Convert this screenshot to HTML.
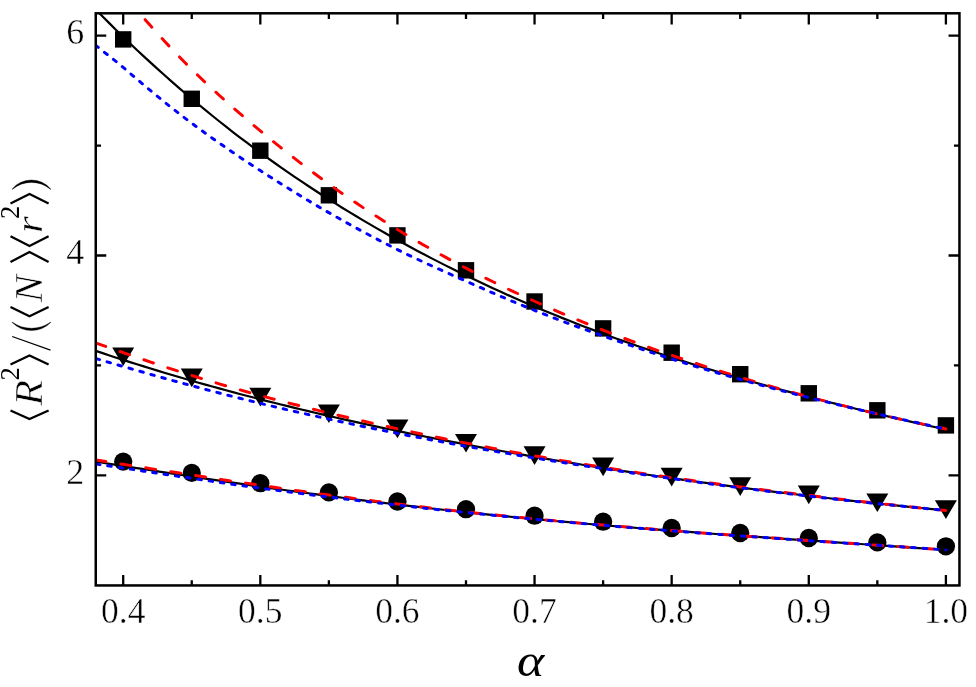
<!DOCTYPE html>
<html><head><meta charset="utf-8"><title>chart</title>
<style>html,body{margin:0;padding:0;background:#fff}svg{display:block}text{font-family:"Liberation Serif",serif}</style>
</head><body>
<svg width="976" height="687" viewBox="0 0 976 687">
<rect width="976" height="687" fill="#fff"/>
<defs><clipPath id="c"><rect x="95.75" y="13.3" width="863.7" height="572.1500000000001"/></clipPath></defs>
<g clip-path="url(#c)">
<g fill="#000"><rect x="115.00" y="31.20" width="16.4" height="16.4"/><rect x="183.56" y="90.60" width="16.4" height="16.4"/><rect x="252.12" y="142.50" width="16.4" height="16.4"/><rect x="320.68" y="187.10" width="16.4" height="16.4"/><rect x="389.23" y="227.20" width="16.4" height="16.4"/><rect x="457.79" y="262.10" width="16.4" height="16.4"/><rect x="526.35" y="293.30" width="16.4" height="16.4"/><rect x="594.91" y="320.20" width="16.4" height="16.4"/><rect x="663.47" y="344.50" width="16.4" height="16.4"/><rect x="732.02" y="366.00" width="16.4" height="16.4"/><rect x="800.58" y="385.10" width="16.4" height="16.4"/><rect x="869.14" y="402.10" width="16.4" height="16.4"/><rect x="937.70" y="417.20" width="16.4" height="16.4"/><path d="M112.20,347.40H134.20L123.20,366.10Z"/><path d="M180.76,368.50H202.76L191.76,387.20Z"/><path d="M249.32,387.80H271.32L260.32,406.50Z"/><path d="M317.88,404.40H339.88L328.88,423.10Z"/><path d="M386.43,419.60H408.43L397.43,438.30Z"/><path d="M454.99,433.90H476.99L465.99,452.60Z"/><path d="M523.55,446.20H545.55L534.55,464.90Z"/><path d="M592.11,457.50H614.11L603.11,476.20Z"/><path d="M660.67,467.70H682.67L671.67,486.40Z"/><path d="M729.22,477.30H751.22L740.22,496.00Z"/><path d="M797.78,485.50H819.78L808.78,504.20Z"/><path d="M866.34,493.40H888.34L877.34,512.10Z"/><path d="M934.90,500.20H956.90L945.90,518.90Z"/><circle cx="123.20" cy="461.60" r="9.15"/><circle cx="191.76" cy="472.90" r="9.15"/><circle cx="260.32" cy="483.20" r="9.15"/><circle cx="328.88" cy="492.40" r="9.15"/><circle cx="397.43" cy="501.50" r="9.15"/><circle cx="465.99" cy="509.20" r="9.15"/><circle cx="534.55" cy="515.70" r="9.15"/><circle cx="603.11" cy="521.70" r="9.15"/><circle cx="671.67" cy="528.00" r="9.15"/><circle cx="740.22" cy="533.00" r="9.15"/><circle cx="808.78" cy="538.00" r="9.15"/><circle cx="877.34" cy="542.40" r="9.15"/><circle cx="945.90" cy="546.30" r="9.15"/></g>
<path d="M95.78,9.57 L102.63,16.53 L109.49,23.39 L116.34,30.17 L123.20,36.85 L130.06,43.44 L136.91,49.94 L143.77,56.34 L150.62,62.67 L157.48,68.90 L164.33,75.05 L171.19,81.11 L178.05,87.09 L184.90,92.98 L191.76,98.80 L198.61,104.53 L205.47,110.18 L212.33,115.75 L219.18,121.25 L226.04,126.67 L232.89,132.01 L239.75,137.27 L246.60,142.46 L253.46,147.58 L260.32,152.63 L267.17,157.61 L274.03,162.51 L280.88,167.35 L287.74,172.12 L294.60,176.82 L301.45,181.46 L308.31,186.03 L315.16,190.54 L322.02,194.98 L328.88,199.36 L335.73,203.68 L342.59,207.95 L349.44,212.15 L356.30,216.29 L363.15,220.38 L370.01,224.42 L376.87,228.39 L383.72,232.32 L390.58,236.19 L397.43,240.01 L404.29,243.78 L411.14,247.50 L418.00,251.17 L424.86,254.79 L431.71,258.36 L438.57,261.89 L445.42,265.37 L452.28,268.80 L459.14,272.19 L465.99,275.53 L472.85,278.82 L479.70,282.08 L486.56,285.29 L493.41,288.45 L500.27,291.58 L507.13,294.66 L513.98,297.70 L520.84,300.70 L527.69,303.66 L534.55,306.58 L541.41,309.46 L548.26,312.30 L555.12,315.10 L561.97,317.87 L568.83,320.59 L575.68,323.29 L582.54,325.94 L589.40,328.56 L596.25,331.15 L603.11,333.70 L609.96,336.22 L616.82,338.70 L623.68,341.15 L630.53,343.57 L637.39,345.96 L644.24,348.32 L651.10,350.64 L657.96,352.94 L664.81,355.21 L671.67,357.45 L678.52,359.65 L685.38,361.84 L692.23,363.99 L699.09,366.12 L705.95,368.22 L712.80,370.30 L719.66,372.35 L726.51,374.37 L733.37,376.38 L740.23,378.36 L747.08,380.31 L753.94,382.25 L760.79,384.16 L767.65,386.05 L774.50,387.92 L781.36,389.77 L788.22,391.60 L795.07,393.41 L801.93,395.21 L808.78,396.98 L815.64,398.74 L822.50,400.48 L829.35,402.20 L836.21,403.91 L843.06,405.61 L849.92,407.28 L856.77,408.95 L863.63,410.60 L870.49,412.24 L877.34,413.86 L884.20,415.48 L891.05,417.08 L897.91,418.67 L904.76,420.25 L911.62,421.82 L918.48,423.38 L925.33,424.94 L932.19,426.48 L939.04,428.02 L945.90,429.55" fill="none" stroke="#000" stroke-width="2.2"/>
<path d="M95.78,350.85 L102.63,353.16 L109.49,355.44 L116.34,357.68 L123.20,359.91 L130.06,362.10 L136.91,364.27 L143.77,366.42 L150.62,368.53 L157.48,370.63 L164.33,372.70 L171.19,374.74 L178.05,376.77 L184.90,378.76 L191.76,380.74 L198.61,382.69 L205.47,384.62 L212.33,386.53 L219.18,388.42 L226.04,390.29 L232.89,392.13 L239.75,393.96 L246.60,395.76 L253.46,397.55 L260.32,399.31 L267.17,401.06 L274.03,402.79 L280.88,404.49 L287.74,406.18 L294.60,407.86 L301.45,409.51 L308.31,411.15 L315.16,412.77 L322.02,414.37 L328.88,415.95 L335.73,417.52 L342.59,419.08 L349.44,420.61 L356.30,422.13 L363.15,423.64 L370.01,425.13 L376.87,426.60 L383.72,428.06 L390.58,429.51 L397.43,430.94 L404.29,432.36 L411.14,433.76 L418.00,435.15 L424.86,436.52 L431.71,437.88 L438.57,439.23 L445.42,440.57 L452.28,441.89 L459.14,443.20 L465.99,444.49 L472.85,445.78 L479.70,447.05 L486.56,448.31 L493.41,449.56 L500.27,450.79 L507.13,452.02 L513.98,453.23 L520.84,454.43 L527.69,455.62 L534.55,456.80 L541.41,457.96 L548.26,459.12 L555.12,460.27 L561.97,461.40 L568.83,462.53 L575.68,463.64 L582.54,464.74 L589.40,465.84 L596.25,466.92 L603.11,467.99 L609.96,469.06 L616.82,470.11 L623.68,471.15 L630.53,472.19 L637.39,473.21 L644.24,474.22 L651.10,475.23 L657.96,476.23 L664.81,477.21 L671.67,478.19 L678.52,479.16 L685.38,480.12 L692.23,481.07 L699.09,482.01 L705.95,482.94 L712.80,483.87 L719.66,484.78 L726.51,485.69 L733.37,486.58 L740.23,487.47 L747.08,488.35 L753.94,489.23 L760.79,490.09 L767.65,490.95 L774.50,491.79 L781.36,492.63 L788.22,493.46 L795.07,494.28 L801.93,495.10 L808.78,495.91 L815.64,496.70 L822.50,497.49 L829.35,498.28 L836.21,499.05 L843.06,499.82 L849.92,500.58 L856.77,501.33 L863.63,502.07 L870.49,502.81 L877.34,503.54 L884.20,504.26 L891.05,504.97 L897.91,505.67 L904.76,506.37 L911.62,507.06 L918.48,507.75 L925.33,508.42 L932.19,509.09 L939.04,509.75 L945.90,510.40" fill="none" stroke="#000" stroke-width="2.2"/>
<path d="M95.78,461.70 L102.63,462.78 L109.49,463.85 L116.34,464.93 L123.20,466.00 L130.06,467.07 L136.91,468.14 L143.77,469.21 L150.62,470.27 L157.48,471.33 L164.33,472.39 L171.19,473.44 L178.05,474.49 L184.90,475.53 L191.76,476.57 L198.61,477.60 L205.47,478.63 L212.33,479.65 L219.18,480.67 L226.04,481.68 L232.89,482.69 L239.75,483.68 L246.60,484.68 L253.46,485.66 L260.32,486.64 L267.17,487.61 L274.03,488.57 L280.88,489.53 L287.74,490.48 L294.60,491.42 L301.45,492.35 L308.31,493.28 L315.16,494.20 L322.02,495.10 L328.88,496.01 L335.73,496.90 L342.59,497.78 L349.44,498.66 L356.30,499.52 L363.15,500.38 L370.01,501.23 L376.87,502.07 L383.72,502.91 L390.58,503.73 L397.43,504.55 L404.29,505.35 L411.14,506.15 L418.00,506.94 L424.86,507.72 L431.71,508.49 L438.57,509.26 L445.42,510.01 L452.28,510.76 L459.14,511.50 L465.99,512.22 L472.85,512.95 L479.70,513.66 L486.56,514.36 L493.41,515.06 L500.27,515.75 L507.13,516.43 L513.98,517.10 L520.84,517.77 L527.69,518.42 L534.55,519.07 L541.41,519.72 L548.26,520.35 L555.12,520.98 L561.97,521.60 L568.83,522.21 L575.68,522.82 L582.54,523.42 L589.40,524.01 L596.25,524.60 L603.11,525.18 L609.96,525.75 L616.82,526.32 L623.68,526.88 L630.53,527.44 L637.39,527.99 L644.24,528.54 L651.10,529.08 L657.96,529.62 L664.81,530.15 L671.67,530.67 L678.52,531.19 L685.38,531.71 L692.23,532.22 L699.09,532.73 L705.95,533.24 L712.80,533.74 L719.66,534.24 L726.51,534.73 L733.37,535.23 L740.23,535.72 L747.08,536.20 L753.94,536.69 L760.79,537.17 L767.65,537.65 L774.50,538.12 L781.36,538.60 L788.22,539.07 L795.07,539.55 L801.93,540.02 L808.78,540.49 L815.64,540.96 L822.50,541.43 L829.35,541.90 L836.21,542.37 L843.06,542.83 L849.92,543.30 L856.77,543.77 L863.63,544.24 L870.49,544.71 L877.34,545.18 L884.20,545.65 L891.05,546.12 L897.91,546.60 L904.76,547.07 L911.62,547.55 L918.48,548.03 L925.33,548.51 L932.19,548.99 L939.04,549.48 L945.90,549.96" fill="none" stroke="#000" stroke-width="2.2"/>
<g transform="scale(1,1.01)" fill="none" stroke-linecap="round" stroke-width="2.95">
<path d="M95.78,-37.23 L102.63,-29.10 L109.49,-21.16 L116.34,-13.31 L123.20,-5.45 L130.06,2.42 L136.91,10.22 L143.77,17.94 L150.62,25.57 L157.48,33.10 L164.33,40.51 L171.19,47.78 L178.05,54.91 L184.90,61.88 L191.76,68.66 L198.61,75.27 L205.47,81.75 L212.33,88.08 L219.18,94.30 L226.04,100.41 L232.89,106.41 L239.75,112.32 L246.60,118.15 L253.46,123.90 L260.32,129.59 L267.17,135.21 L274.03,140.74 L280.88,146.20 L287.74,151.57 L294.60,156.87 L301.45,162.09 L308.31,167.23 L315.16,172.29 L322.02,177.28 L328.88,182.19 L335.73,187.03 L342.59,191.78 L349.44,196.47 L356.30,201.08 L363.15,205.61 L370.01,210.08 L376.87,214.47 L383.72,218.79 L390.58,223.04 L397.43,227.23 L404.29,231.35 L411.14,235.39 L418.00,239.36 L424.86,243.27 L431.71,247.12 L438.57,250.91 L445.42,254.63 L452.28,258.31 L459.14,261.93 L465.99,265.50 L472.85,269.01 L479.70,272.46 L486.56,275.86 L493.41,279.20 L500.27,282.49 L507.13,285.74 L513.98,288.93 L520.84,292.09 L527.69,295.20 L534.55,298.28 L541.41,301.33 L548.26,304.32 L555.12,307.28 L561.97,310.20 L568.83,313.08 L575.68,315.91 L582.54,318.71 L589.40,321.47 L596.25,324.19 L603.11,326.88 L609.96,329.53 L616.82,332.14 L623.68,334.72 L630.53,337.26 L637.39,339.76 L644.24,342.23 L651.10,344.67 L657.96,347.08 L664.81,349.45 L671.67,351.79 L678.52,354.09 L685.38,356.37 L692.23,358.62 L699.09,360.83 L705.95,363.02 L712.80,365.18 L719.66,367.32 L726.51,369.43 L733.37,371.52 L740.23,373.58 L747.08,375.62 L753.94,377.64 L760.79,379.63 L767.65,381.60 L774.50,383.54 L781.36,385.46 L788.22,387.35 L795.07,389.22 L801.93,391.07 L808.78,392.89 L815.64,394.68 L822.50,396.46 L829.35,398.21 L836.21,399.94 L843.06,401.64 L849.92,403.33 L856.77,404.99 L863.63,406.62 L870.49,408.24 L877.34,409.83 L884.20,411.40 L891.05,412.95 L897.91,414.47 L904.76,415.98 L911.62,417.47 L918.48,418.94 L925.33,420.40 L932.19,421.84 L939.04,423.27 L945.90,424.70" stroke="#f00" stroke-dasharray="10.0 15.22" stroke-dashoffset="0.5"/>
<path d="M95.78,339.47 L102.63,341.91 L109.49,344.32 L116.34,346.70 L123.20,349.09 L130.06,351.47 L136.91,353.83 L143.77,356.16 L150.62,358.48 L157.48,360.77 L164.33,363.03 L171.19,365.26 L178.05,367.47 L184.90,369.64 L191.76,371.77 L198.61,373.88 L205.47,375.95 L212.33,378.00 L219.18,380.02 L226.04,382.02 L232.89,383.98 L239.75,385.92 L246.60,387.84 L253.46,389.73 L260.32,391.59 L267.17,393.43 L274.03,395.24 L280.88,397.02 L287.74,398.78 L294.60,400.52 L301.45,402.24 L308.31,403.93 L315.16,405.61 L322.02,407.27 L328.88,408.92 L335.73,410.55 L342.59,412.16 L349.44,413.75 L356.30,415.33 L363.15,416.89 L370.01,418.43 L376.87,419.96 L383.72,421.47 L390.58,422.98 L397.43,424.47 L404.29,425.95 L411.14,427.42 L418.00,428.88 L424.86,430.33 L431.71,431.77 L438.57,433.19 L445.42,434.59 L452.28,435.98 L459.14,437.35 L465.99,438.70 L472.85,440.04 L479.70,441.35 L486.56,442.65 L493.41,443.94 L500.27,445.21 L507.13,446.46 L513.98,447.71 L520.84,448.94 L527.69,450.15 L534.55,451.35 L541.41,452.55 L548.26,453.72 L555.12,454.89 L561.97,456.04 L568.83,457.18 L575.68,458.31 L582.54,459.43 L589.40,460.53 L596.25,461.63 L603.11,462.71 L609.96,463.78 L616.82,464.84 L623.68,465.89 L630.53,466.92 L637.39,467.95 L644.24,468.96 L651.10,469.97 L657.96,470.96 L664.81,471.95 L671.67,472.92 L678.52,473.88 L685.38,474.83 L692.23,475.78 L699.09,476.71 L705.95,477.63 L712.80,478.54 L719.66,479.45 L726.51,480.35 L733.37,481.23 L740.23,482.12 L747.08,482.99 L753.94,483.85 L760.79,484.71 L767.65,485.56 L774.50,486.40 L781.36,487.23 L788.22,488.06 L795.07,488.88 L801.93,489.69 L808.78,490.50 L815.64,491.31 L822.50,492.10 L829.35,492.90 L836.21,493.68 L843.06,494.46 L849.92,495.24 L856.77,496.00 L863.63,496.77 L870.49,497.52 L877.34,498.28 L884.20,499.02 L891.05,499.76 L897.91,500.50 L904.76,501.23 L911.62,501.96 L918.48,502.68 L925.33,503.40 L932.19,504.11 L939.04,504.82 L945.90,505.52" stroke="#f00" stroke-dasharray="10.0 15.22" stroke-dashoffset="-0.52"/>
<path d="M95.78,455.38 L102.63,456.47 L109.49,457.56 L116.34,458.64 L123.20,459.72 L130.06,460.78 L136.91,461.85 L143.77,462.90 L150.62,463.96 L157.48,465.01 L164.33,466.06 L171.19,467.11 L178.05,468.15 L184.90,469.20 L191.76,470.24 L198.61,471.28 L205.47,472.33 L212.33,473.36 L219.18,474.40 L226.04,475.43 L232.89,476.45 L239.75,477.47 L246.60,478.49 L253.46,479.50 L260.32,480.50 L267.17,481.50 L274.03,482.49 L280.88,483.48 L287.74,484.46 L294.60,485.44 L301.45,486.41 L308.31,487.37 L315.16,488.32 L322.02,489.26 L328.88,490.19 L335.73,491.11 L342.59,492.02 L349.44,492.92 L356.30,493.81 L363.15,494.69 L370.01,495.56 L376.87,496.43 L383.72,497.28 L390.58,498.13 L397.43,498.97 L404.29,499.80 L411.14,500.63 L418.00,501.45 L424.86,502.26 L431.71,503.07 L438.57,503.86 L445.42,504.64 L452.28,505.41 L459.14,506.17 L465.99,506.91 L472.85,507.65 L479.70,508.36 L486.56,509.07 L493.41,509.76 L500.27,510.45 L507.13,511.12 L513.98,511.79 L520.84,512.45 L527.69,513.10 L534.55,513.75 L541.41,514.39 L548.26,515.02 L555.12,515.65 L561.97,516.27 L568.83,516.88 L575.68,517.49 L582.54,518.09 L589.40,518.68 L596.25,519.27 L603.11,519.85 L609.96,520.42 L616.82,520.99 L623.68,521.55 L630.53,522.11 L637.39,522.66 L644.24,523.20 L651.10,523.75 L657.96,524.28 L664.81,524.81 L671.67,525.34 L678.52,525.86 L685.38,526.38 L692.23,526.89 L699.09,527.40 L705.95,527.90 L712.80,528.40 L719.66,528.90 L726.51,529.40 L733.37,529.89 L740.23,530.38 L747.08,530.86 L753.94,531.35 L760.79,531.83 L767.65,532.31 L774.50,532.78 L781.36,533.26 L788.22,533.73 L795.07,534.20 L801.93,534.67 L808.78,535.14 L815.64,535.61 L822.50,536.07 L829.35,536.54 L836.21,537.00 L843.06,537.47 L849.92,537.94 L856.77,538.40 L863.63,538.87 L870.49,539.33 L877.34,539.80 L884.20,540.27 L891.05,540.74 L897.91,541.20 L904.76,541.68 L911.62,542.15 L918.48,542.62 L925.33,543.10 L932.19,543.57 L939.04,544.05 L945.90,544.53" stroke="#f00" stroke-dasharray="10.0 15.22" stroke-dashoffset="-0.16"/>
<path d="M95.78,44.88 L102.63,50.44 L109.49,55.75 L116.34,61.08 L123.20,66.71 L130.06,72.55 L136.91,78.35 L143.77,84.09 L150.62,89.78 L157.48,95.38 L164.33,100.91 L171.19,106.35 L178.05,111.69 L184.90,116.92 L191.76,122.03 L198.61,127.04 L205.47,131.97 L212.33,136.81 L219.18,141.59 L226.04,146.29 L232.89,150.93 L239.75,155.50 L246.60,160.02 L253.46,164.49 L260.32,168.90 L267.17,173.27 L274.03,177.61 L280.88,181.90 L287.74,186.15 L294.60,190.35 L301.45,194.50 L308.31,198.60 L315.16,202.64 L322.02,206.63 L328.88,210.55 L335.73,214.42 L342.59,218.25 L349.44,222.04 L356.30,225.78 L363.15,229.47 L370.01,233.11 L376.87,236.70 L383.72,240.23 L390.58,243.71 L397.43,247.12 L404.29,250.47 L411.14,253.74 L418.00,256.95 L424.86,260.11 L431.71,263.23 L438.57,266.30 L445.42,269.35 L452.28,272.37 L459.14,275.38 L465.99,278.39 L472.85,281.39 L479.70,284.38 L486.56,287.35 L493.41,290.30 L500.27,293.22 L507.13,296.11 L513.98,298.97 L520.84,301.79 L527.69,304.57 L534.55,307.30 L541.41,309.99 L548.26,312.64 L555.12,315.25 L561.97,317.82 L568.83,320.36 L575.68,322.86 L582.54,325.34 L589.40,327.79 L596.25,330.22 L603.11,332.63 L609.96,335.01 L616.82,337.38 L623.68,339.72 L630.53,342.04 L637.39,344.34 L644.24,346.60 L651.10,348.85 L657.96,351.06 L664.81,353.25 L671.67,355.40 L678.52,357.53 L685.38,359.64 L692.23,361.73 L699.09,363.79 L705.95,365.83 L712.80,367.84 L719.66,369.84 L726.51,371.80 L733.37,373.75 L740.23,375.67 L747.08,377.56 L753.94,379.44 L760.79,381.29 L767.65,383.13 L774.50,384.94 L781.36,386.73 L788.22,388.50 L795.07,390.25 L801.93,391.98 L808.78,393.68 L815.64,395.37 L822.50,397.03 L829.35,398.68 L836.21,400.31 L843.06,401.93 L849.92,403.53 L856.77,405.11 L863.63,406.69 L870.49,408.25 L877.34,409.79 L884.20,411.33 L891.05,412.85 L897.91,414.37 L904.76,415.88 L911.62,417.38 L918.48,418.88 L925.33,420.38 L932.19,421.87 L939.04,423.37 L945.90,424.86" stroke="#00f" stroke-dasharray="3.6 7.787" stroke-dashoffset="0.34"/>
<path d="M95.78,355.05 L102.63,357.02 L109.49,358.95 L116.34,360.87 L123.20,362.84 L130.06,364.82 L136.91,366.79 L143.77,368.74 L150.62,370.68 L157.48,372.59 L164.33,374.49 L171.19,376.37 L178.05,378.24 L184.90,380.09 L191.76,381.91 L198.61,383.73 L205.47,385.53 L212.33,387.31 L219.18,389.09 L226.04,390.84 L232.89,392.58 L239.75,394.30 L246.60,396.00 L253.46,397.68 L260.32,399.34 L267.17,400.98 L274.03,402.60 L280.88,404.20 L287.74,405.78 L294.60,407.35 L301.45,408.90 L308.31,410.43 L315.16,411.95 L322.02,413.46 L328.88,414.95 L335.73,416.42 L342.59,417.89 L349.44,419.34 L356.30,420.78 L363.15,422.20 L370.01,423.61 L376.87,425.01 L383.72,426.39 L390.58,427.75 L397.43,429.10 L404.29,430.43 L411.14,431.75 L418.00,433.06 L424.86,434.35 L431.71,435.62 L438.57,436.89 L445.42,438.14 L452.28,439.38 L459.14,440.61 L465.99,441.83 L472.85,443.03 L479.70,444.23 L486.56,445.41 L493.41,446.59 L500.27,447.75 L507.13,448.90 L513.98,450.04 L520.84,451.17 L527.69,452.29 L534.55,453.40 L541.41,454.50 L548.26,455.59 L555.12,456.66 L561.97,457.73 L568.83,458.79 L575.68,459.84 L582.54,460.88 L589.40,461.91 L596.25,462.94 L603.11,463.96 L609.96,464.98 L616.82,465.99 L623.68,466.99 L630.53,467.99 L637.39,468.98 L644.24,469.96 L651.10,470.93 L657.96,471.90 L664.81,472.86 L671.67,473.81 L678.52,474.76 L685.38,475.70 L692.23,476.63 L699.09,477.56 L705.95,478.48 L712.80,479.39 L719.66,480.29 L726.51,481.18 L733.37,482.07 L740.23,482.94 L747.08,483.81 L753.94,484.66 L760.79,485.51 L767.65,486.35 L774.50,487.18 L781.36,488.00 L788.22,488.81 L795.07,489.62 L801.93,490.42 L808.78,491.20 L815.64,491.99 L822.50,492.76 L829.35,493.52 L836.21,494.28 L843.06,495.03 L849.92,495.77 L856.77,496.50 L863.63,497.23 L870.49,497.94 L877.34,498.65 L884.20,499.35 L891.05,500.05 L897.91,500.73 L904.76,501.41 L911.62,502.08 L918.48,502.74 L925.33,503.40 L932.19,504.05 L939.04,504.69 L945.90,505.32" stroke="#00f" stroke-dasharray="3.6 7.787" stroke-dashoffset="-0.3"/>
<path d="M95.78,459.40 L102.63,460.40 L109.49,461.40 L116.34,462.40 L123.20,463.41 L130.06,464.44 L136.91,465.46 L143.77,466.49 L150.62,467.51 L157.48,468.54 L164.33,469.56 L171.19,470.58 L178.05,471.59 L184.90,472.60 L191.76,473.60 L198.61,474.60 L205.47,475.60 L212.33,476.60 L219.18,477.58 L226.04,478.57 L232.89,479.54 L239.75,480.51 L246.60,481.47 L253.46,482.41 L260.32,483.35 L267.17,484.27 L274.03,485.18 L280.88,486.08 L287.74,486.97 L294.60,487.85 L301.45,488.72 L308.31,489.58 L315.16,490.43 L322.02,491.28 L328.88,492.12 L335.73,492.96 L342.59,493.78 L349.44,494.60 L356.30,495.41 L363.15,496.21 L370.01,497.00 L376.87,497.79 L383.72,498.57 L390.58,499.34 L397.43,500.11 L404.29,500.87 L411.14,501.63 L418.00,502.38 L424.86,503.13 L431.71,503.86 L438.57,504.60 L445.42,505.32 L452.28,506.04 L459.14,506.75 L465.99,507.45 L472.85,508.14 L479.70,508.83 L486.56,509.50 L493.41,510.18 L500.27,510.84 L507.13,511.50 L513.98,512.15 L520.84,512.79 L527.69,513.43 L534.55,514.07 L541.41,514.70 L548.26,515.33 L555.12,515.95 L561.97,516.57 L568.83,517.18 L575.68,517.79 L582.54,518.39 L589.40,518.98 L596.25,519.57 L603.11,520.15 L609.96,520.72 L616.82,521.29 L623.68,521.84 L630.53,522.40 L637.39,522.95 L644.24,523.49 L651.10,524.03 L657.96,524.56 L664.81,525.09 L671.67,525.61 L678.52,526.12 L685.38,526.64 L692.23,527.15 L699.09,527.65 L705.95,528.15 L712.80,528.65 L719.66,529.14 L726.51,529.63 L733.37,530.11 L740.23,530.60 L747.08,531.08 L753.94,531.55 L760.79,532.03 L767.65,532.50 L774.50,532.97 L781.36,533.43 L788.22,533.90 L795.07,534.36 L801.93,534.82 L808.78,535.28 L815.64,535.74 L822.50,536.20 L829.35,536.66 L836.21,537.12 L843.06,537.57 L849.92,538.03 L856.77,538.48 L863.63,538.94 L870.49,539.39 L877.34,539.85 L884.20,540.30 L891.05,540.76 L897.91,541.22 L904.76,541.68 L911.62,542.14 L918.48,542.60 L925.33,543.06 L932.19,543.52 L939.04,543.99 L945.90,544.45" stroke="#00f" stroke-dasharray="3.6 7.787" stroke-dashoffset="-0.66"/>
</g>
</g>
<g stroke="#000" stroke-width="2.3" fill="none"><path d="M123.20,585.45v-10.5M123.20,13.3v11.3"/><path d="M191.76,585.45v-5.3M191.76,13.3v5.6"/><path d="M260.32,585.45v-10.5M260.32,13.3v11.3"/><path d="M328.88,585.45v-5.3M328.88,13.3v5.6"/><path d="M397.43,585.45v-10.5M397.43,13.3v11.3"/><path d="M465.99,585.45v-5.3M465.99,13.3v5.6"/><path d="M534.55,585.45v-10.5M534.55,13.3v11.3"/><path d="M603.11,585.45v-5.3M603.11,13.3v5.6"/><path d="M671.67,585.45v-10.5M671.67,13.3v11.3"/><path d="M740.23,585.45v-5.3M740.23,13.3v5.6"/><path d="M808.78,585.45v-10.5M808.78,13.3v11.3"/><path d="M877.34,585.45v-5.3M877.34,13.3v5.6"/><path d="M945.90,585.45v-10.5M945.90,13.3v11.3"/><path d="M95.75,475.40h10.5M959.45,475.40h-10.9"/><path d="M95.75,365.45h5.3M959.45,365.45h-5.5"/><path d="M95.75,255.50h10.5M959.45,255.50h-10.9"/><path d="M95.75,145.55h5.3M959.45,145.55h-5.5"/><path d="M95.75,35.60h10.5M959.45,35.60h-10.9"/></g>
<rect x="95.75" y="13.3" width="863.7" height="572.1500000000001" fill="none" stroke="#000" stroke-width="2.5"/>
<g style="filter:grayscale(1)" font-family="'Liberation Serif', serif" fill="#000" stroke="#fff" stroke-width="0.45"><text x="123.20" y="623.4" font-size="36.0" text-anchor="middle" textLength="44.4" lengthAdjust="spacingAndGlyphs">0.4</text><text x="260.32" y="623.4" font-size="36.0" text-anchor="middle" textLength="44.4" lengthAdjust="spacingAndGlyphs">0.5</text><text x="397.43" y="623.4" font-size="36.0" text-anchor="middle" textLength="44.4" lengthAdjust="spacingAndGlyphs">0.6</text><text x="534.55" y="623.4" font-size="36.0" text-anchor="middle" textLength="44.4" lengthAdjust="spacingAndGlyphs">0.7</text><text x="671.67" y="623.4" font-size="36.0" text-anchor="middle" textLength="44.4" lengthAdjust="spacingAndGlyphs">0.8</text><text x="808.78" y="623.4" font-size="36.0" text-anchor="middle" textLength="44.4" lengthAdjust="spacingAndGlyphs">0.9</text><text x="945.90" y="623.4" font-size="36.0" text-anchor="middle" textLength="44.4" lengthAdjust="spacingAndGlyphs">1.0</text><text x="84.2" y="484.00" font-size="36.0" text-anchor="end">2</text><text x="84.2" y="264.10" font-size="36.0" text-anchor="end">4</text><text x="84.2" y="44.20" font-size="36.0" text-anchor="end">6</text></g>
<g style="filter:grayscale(1)" transform="translate(0,421) rotate(-90)" font-family="'Liberation Serif', serif" fill="#000"><path d="M10.6,10.5L1.9,29.5L10.6,48.6" fill="none" stroke="#000" stroke-width="2.25" stroke-linejoin="miter" stroke-miterlimit="10"/><text transform="translate(15.23,41.50) scale(0.04219,0.04108)" font-size="1000.0" font-style="italic" stroke="#fff" stroke-width="0.6" vector-effect="non-scaling-stroke">R</text><text transform="translate(40.43,18.80) scale(0.02669,0.02719)" font-size="1000.0" font-style="normal" >2</text><path d="M56.5,10.5L65.4,29.5L56.5,48.6" fill="none" stroke="#000" stroke-width="2.25" stroke-linejoin="miter" stroke-miterlimit="10"/><path d="M70.8,50.5L84.5,12.2" stroke="#000" stroke-width="1.3" fill="none"/><path d="M98.42,12.2A27.16,27.16 0 0 0 98.42,50.7L98.98,50.7A32.98,32.98 0 0 1 98.98,12.2Z" fill="#000" stroke="#000" stroke-width="0.35" stroke-linejoin="round"/><path d="M113.9,10.5L104.8,29.5L113.9,48.6" fill="none" stroke="#000" stroke-width="2.25" stroke-linejoin="miter" stroke-miterlimit="10"/><text transform="translate(118.40,41.50) scale(0.04149,0.04108)" font-size="1000.0" font-style="italic" stroke="#fff" stroke-width="0.6" vector-effect="non-scaling-stroke">N</text><path d="M159.1,10.5L169.0,29.5L159.1,48.6" fill="none" stroke="#000" stroke-width="2.25" stroke-linejoin="miter" stroke-miterlimit="10"/><path d="M184.7,10.5L174.9,29.5L184.7,48.6" fill="none" stroke="#000" stroke-width="2.25" stroke-linejoin="miter" stroke-miterlimit="10"/><text transform="translate(187.95,41.50) scale(0.04324,0.03799)" font-size="1000.0" font-style="italic" stroke="#fff" stroke-width="0.6" vector-effect="non-scaling-stroke">r</text><text transform="translate(201.93,18.80) scale(0.02669,0.02719)" font-size="1000.0" font-style="normal" >2</text><path d="M217.5,10.5L226.9,29.5L217.5,48.6" fill="none" stroke="#000" stroke-width="2.25" stroke-linejoin="miter" stroke-miterlimit="10"/><path d="M232.12,12.2A25.36,25.36 0 0 1 232.12,50.7L231.57,50.7A29.81,29.81 0 0 0 231.57,12.2Z" fill="#000" stroke="#000" stroke-width="0.35" stroke-linejoin="round"/></g>
<g style="filter:grayscale(1)" fill="#000"><text transform="translate(517.06,675.93) scale(0.05179,0.04586)" font-size="1000.0" font-style="italic" >α</text></g>
</svg>
</body></html>
